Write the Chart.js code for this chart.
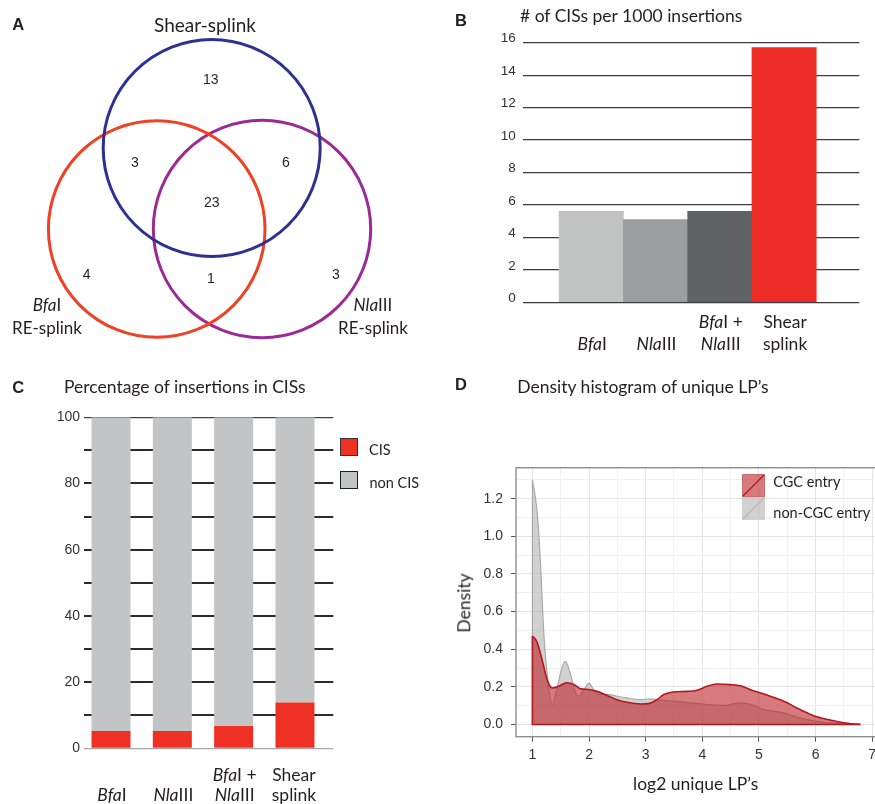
<!DOCTYPE html>
<html><head><meta charset="utf-8">
<script src="https://cdn.jsdelivr.net/npm/chart.js@4.4.1/dist/chart.umd.min.js"></script>
<style>
html,body{margin:0;padding:0;background:#fff;width:875px;height:804px;overflow:hidden;}
body{position:relative;font-family:Lato,sans-serif;color:#231f20;}
canvas{position:absolute;}
.t{position:absolute;white-space:nowrap;line-height:1;}
.c{transform:translate(-50%,-50%);}
.l{transform:translate(0,-50%);}
.letter{font-family:"Liberation Sans",Arial,sans-serif;font-weight:bold;font-size:16.5px;}
.title{font-size:17.5px;}
.cat{font-size:17.5px;}
.sw{position:absolute;box-sizing:border-box;}
</style></head><body>
<canvas id="cA" width="440" height="350" style="left:0;top:0"></canvas>
<canvas id="cB" width="435" height="360" style="left:440px;top:0"></canvas>
<canvas id="cC" width="440" height="444" style="left:0;top:360px"></canvas>
<canvas id="cD" width="445" height="444" style="left:440px;top:360px"></canvas>
<script>
// ---------- DATA ----------
// Panel A: Venn diagram of CISs
const vennSets = ['Shear-splink', 'BfaI RE-splink', 'NlaIII RE-splink'];
const vennRegions = ['Shear only', 'Shear+BfaI', 'Shear+NlaIII', 'all three', 'BfaI only', 'BfaI+NlaIII', 'NlaIII only'];
const vennCounts = [13, 3, 6, 23, 4, 1, 3];
// Panel B: # of CISs per 1000 insertions
const methods = ['BfaI', 'NlaIII', 'BfaI + NlaIII', 'Shear splink'];
const methodLines = [['', 'BfaI'], ['', 'NlaIII'], ['BfaI +', 'NlaIII'], ['Shear', 'splink']];
const cisPer1000 = [5.6, 5.1, 5.6, 15.7];
const ticksB = [0, 2, 4, 6, 8, 10, 12, 14, 16];
// Panel C: percentage of insertions in CISs
const pctCIS = [5.2, 5.2, 6.7, 13.8];
const pctNonCIS = [94.8, 94.8, 93.3, 86.2];
const ticksC = [0, 20, 40, 60, 80, 100];
// Panel D: density of log2 unique LP's
const cgcX = [1.00,1.08,1.17,1.26,1.35,1.44,1.52,1.61,1.73,1.85,1.99,2.14,2.32,2.49,2.67,2.91,3.05,3.20,3.32,3.49,3.73,3.91,4.08,4.26,4.49,4.67,4.85,4.99,5.20,5.44,5.67,5.85,6.02,6.26,6.49,6.79];
const cgcY = [0.470,0.440,0.344,0.238,0.194,0.200,0.212,0.222,0.213,0.190,0.186,0.176,0.154,0.132,0.118,0.109,0.111,0.132,0.159,0.173,0.176,0.182,0.203,0.215,0.212,0.206,0.185,0.171,0.150,0.124,0.088,0.062,0.041,0.023,0.009,0.000];
const nonX = [1.00,1.08,1.14,1.20,1.26,1.35,1.44,1.52,1.58,1.67,1.76,1.82,1.91,2.00,2.08,2.17,2.32,2.49,2.67,2.91,3.08,3.26,3.49,3.79,4.08,4.38,4.67,4.91,5.08,5.26,5.44,5.61,5.85,6.08,6.44,6.79];
const nonY = [1.300,1.140,0.870,0.490,0.270,0.106,0.200,0.300,0.335,0.270,0.168,0.150,0.185,0.220,0.185,0.159,0.160,0.150,0.141,0.132,0.136,0.129,0.124,0.115,0.106,0.102,0.115,0.101,0.079,0.071,0.062,0.044,0.026,0.014,0.004,0.000];
const ticksDx = [1, 2, 3, 4, 5, 6, 7];
const ticksDy = [0, 0.2, 0.4, 0.6, 0.8, 1.0, 1.2];
const seriesD = ['CGC entry', 'non-CGC entry'];

// ---------- LAYOUT / STYLE ----------
const vennLayout = {
  circles: [{x:211.7, y:148, r:108.5}, {x:156.7, y:229, r:108.3}, {x:262, y:229, r:108.7}],
  colors: ['#2e3192', '#ef4123', '#9b2a94'],
  countAt: [[210.7,79],[135,162],[286,162],[211.7,202],[86.7,274],[211,278],[336,274]],
  setLabels: [[[205,24,'Shear-splink']], [[47,304,'<i>Bfa</i>I'],[47,327,'RE-splink']], [[373,304,'<i>Nla</i>III'],[373,327,'RE-splink']]]
};
const barColorsB = ['#c1c3c2', '#9c9d9f', '#5f6264', '#ec2a26'];

function addText(html, x, y, cls, style) {
  const d = document.createElement('div');
  d.className = 't ' + (cls || 'c');
  d.innerHTML = html;
  d.style.left = x + 'px';
  d.style.top = y + 'px';
  if (style) Object.assign(d.style, style);
  document.body.appendChild(d);
  return d;
}
function fmt(s) { return s.replace('Bfa', '<i>Bfa</i>').replace('Nla', '<i>Nla</i>'); }
const common = {animation:false, responsive:false, events:[], plugins:{legend:{display:false}, tooltip:{enabled:false}}};

// ---------- PANEL A ----------
const cA = document.getElementById('cA');
const chA = new Chart(cA, {
  type: 'bubble',
  data: {datasets: vennSets.map((n, i) => ({label:n, data:[vennLayout.circles[i]], backgroundColor:'rgba(0,0,0,0)', borderColor:vennLayout.colors[i], borderWidth:3, clip:false}))},
  options: Object.assign({}, common, {
    layout: {autoPadding:false, padding:0},
    scales: {x:{type:'linear', min:0, max:440, display:false}, y:{type:'linear', min:0, max:350, reverse:true, display:false}}
  })
});
function pA(x, y) { return [cA.offsetLeft + chA.scales.x.getPixelForValue(x), cA.offsetTop + chA.scales.y.getPixelForValue(y)]; }
vennCounts.forEach((v, i) => { const p = pA(vennLayout.countAt[i][0], vennLayout.countAt[i][1]); addText(String(v), p[0], p[1], 'c', {fontFamily:'"Liberation Sans",Arial,sans-serif', fontSize:'14px'}); });
vennLayout.setLabels.forEach((lines, i) => lines.forEach(l => { const p = pA(l[0], l[1]); addText(l[2], p[0], p[1], 'c', {fontSize: i === 0 ? '19px' : '17px'}); }));
addText('A', 18.3, 24, 'c letter');

// ---------- PANEL B ----------
const cB = document.getElementById('cB');
const chB = new Chart(cB, {
  type: 'bar',
  data: {datasets: [{data: cisPer1000.map((v, i) => ({x:i+1, y:v})), backgroundColor: barColorsB, borderWidth:0, barPercentage:1, categoryPercentage:1}]},
  options: Object.assign({}, common, {
    layout: {autoPadding:false, padding:{left:0, top:42.7, right:15.7, bottom:57.7}},
    scales: {
      x: {type:'linear', min:-0.067, max:5.17, display:false, afterBuildTicks: s => { s.ticks = []; }},
      y: {min:0, max:16, afterFit: s => { s.width = 82.7; }, border:{display:false},
          grid:{color:'#3a3a3a', lineWidth:1.3, drawTicks:false},
          ticks:{stepSize:2, padding:7, labelOffset:-4, color:'#333', font:{size:13.5},
                 callback: v => ticksB.includes(v) ? String(v) : ''}}
    }
  })
});
methods.forEach((m, i) => {
  const x = cB.offsetLeft + chB.scales.x.getPixelForValue(i + 1) + 1;
  const yb = cB.offsetTop + chB.chartArea.bottom;
  if (methodLines[i][0]) addText(fmt(methodLines[i][0]), x, yb + 19.6, 'c cat');
  addText(fmt(methodLines[i][1]), x, yb + 41.8, 'c cat');
});
addText('B', 461, 20, 'c letter');
addText('# of CISs per 1000 insertions', 520, 16.3, 'l title');

// ---------- PANEL C ----------
const cC = document.getElementById('cC');
const chC = new Chart(cC, {
  type: 'bar',
  data: {datasets: [
    {label:'CIS', data: pctCIS.map((v, i) => ({x:i+1, y:v})), backgroundColor:'#ee3124', borderWidth:0, barPercentage:0.636, categoryPercentage:1},
    {label:'non CIS', data: pctNonCIS.map((v, i) => ({x:i+1, y:v})), backgroundColor:'#c2c4c5', borderWidth:0, barPercentage:0.636, categoryPercentage:1}
  ]},
  options: Object.assign({}, common, {
    layout: {autoPadding:false, padding:{left:0, top:57.3, right:106.7, bottom:55.7}},
    scales: {
      x: {type:'linear', min:0.5595, max:4.625, stacked:true, display:false, afterBuildTicks: s => { s.ticks = []; }},
      y: {stacked:true, min:0, max:100, afterFit: s => { s.width = 84; }, border:{display:false},
          grid:{drawTicks:false,
                color: c => c.tick && c.tick.value === 0 ? '#a8a8a8' : (c.tick && c.tick.value === 100 ? '#444' : '#2b2b2b'),
                lineWidth: c => c.tick && (c.tick.value === 0 || c.tick.value === 100) ? 1.2 : 2},
          ticks:{stepSize:10, padding:4, color:'#333', font:{size:14},
                 callback: v => ticksC.includes(v) ? String(v) : ''}}
    }
  })
});
methods.forEach((m, i) => {
  const x = cC.offsetLeft + chC.scales.x.getPixelForValue(i + 1) + (i === 3 ? -1 : 1);
  const yb = cC.offsetTop + chC.chartArea.bottom;
  if (methodLines[i][0]) addText(fmt(methodLines[i][0]), x, yb + 26.5, 'c cat');
  addText(fmt(methodLines[i][1]), x, yb + 46.2, 'c cat');
});
addText('C', 18.3, 387, 'c letter');
addText('Percentage of insertions in CISs', 64, 387, 'l title');
(function(){
  const a = document.createElement('div'); a.className = 'sw';
  Object.assign(a.style, {left:'340px', top:'437.7px', width:'18px', height:'18px', background:'#ee3124', border:'1px solid #333'});
  document.body.appendChild(a);
  const b = document.createElement('div'); b.className = 'sw';
  Object.assign(b.style, {left:'340px', top:'470.7px', width:'18px', height:'18px', background:'#c2c4c5', border:'1.6px solid #1e1e1e'});
  document.body.appendChild(b);
  addText('CIS', 369, 449.5, 'l', {fontSize:'14.5px'});
  addText('non CIS', 369.5, 482.5, 'l', {fontSize:'14.5px'});
})();

// ---------- PANEL D ----------
const cD = document.getElementById('cD');
const isMajorX = v => ticksDx.some(t => Math.abs(t - v) < 1e-6);
const isMajorY = v => ticksDy.some(t => Math.abs(t - v) < 1e-6);
const redFill = 'rgba(190,40,45,0.62)', redLine = '#b3181e';
const grayFill = 'rgba(176,176,176,0.58)', grayLine = '#a9a9a9';
const cgcPts = cgcX.map((x, i) => ({x, y:cgcY[i]}));
const nonPts = nonX.map((x, i) => ({x, y:nonY[i]}));
const edge = pts => [{x:pts[0].x, y:pts[0].y}, {x:pts[0].x, y:0}, {x:pts[pts.length-1].x, y:0}];
const panelBorder = {id:'panelBorder', afterDatasetsDraw(ch) {
  const a = ch.chartArea, ctx = ch.ctx;
  ctx.save(); ctx.strokeStyle = '#8e8e8e'; ctx.lineWidth = 1.4;
  ctx.strokeRect(a.left, a.top, a.right - a.left, a.bottom - a.top); ctx.restore();
}};
const chD = new Chart(cD, {
  type: 'scatter',
  data: {datasets: [
    {label:seriesD[0], data:cgcPts, showLine:true, fill:'origin', backgroundColor:redFill, borderColor:redLine, borderWidth:1.6, pointRadius:0, cubicInterpolationMode:'monotone', order:1},
    {label:seriesD[0] + ' edge', data:edge(cgcPts), showLine:true, fill:false, borderColor:redLine, borderWidth:1.6, pointRadius:0, tension:0, order:0},
    {label:seriesD[1], data:nonPts, showLine:true, fill:'origin', backgroundColor:grayFill, borderColor:grayLine, borderWidth:1.2, pointRadius:0, cubicInterpolationMode:'monotone', order:3},
    {label:seriesD[1] + ' edge', data:edge(nonPts), showLine:true, fill:false, borderColor:grayLine, borderWidth:1.2, pointRadius:0, tension:0, order:2}
  ]},
  options: Object.assign({}, common, {
    layout: {autoPadding:false, padding:{left:0, top:107.7, right:7.7, bottom:0}},
    scales: {
      x: {type:'linear', min:0.71, max:7.09, afterFit: s => { s.height = 67.3; }, border:{display:false},
          grid:{color: c => c.tick && isMajorX(c.tick.value) ? '#e4e4e4' : '#f1f1f1', lineWidth:1,
                tickColor: c => c.tick && isMajorX(c.tick.value) ? '#555' : 'rgba(0,0,0,0)', tickLength:5},
          ticks:{stepSize:0.5, includeBounds:false, autoSkip:false, maxRotation:0, padding:5, color:'#333', font:{size:14},
                 callback: v => isMajorX(v) ? String(Math.round(v)) : ''}},
      y: {min:-0.065, max:1.365, afterFit: s => { s.width = 76; }, border:{display:false},
          grid:{color: c => c.tick && isMajorY(c.tick.value) ? '#e4e4e4' : '#f1f1f1', lineWidth:1,
                tickColor: c => c.tick && isMajorY(c.tick.value) ? '#555' : 'rgba(0,0,0,0)', tickLength:5},
          ticks:{stepSize:0.1, includeBounds:false, autoSkip:false, padding:8, color:'#333', font:{size:14},
                 callback: v => isMajorY(v) ? v.toFixed(1) : ''}}
    }
  }),
  plugins: [panelBorder]
});
addText('D', 461, 384, 'c letter');
addText('Density histogram of unique LP\u2019s', 517.3, 387, 'l title');
(function(){
  const a = chD.chartArea;
  const cx = cD.offsetLeft + (a.left + a.right) / 2;
  addText('log2 unique LP\u2019s', cx - 1, 784, 'c', {fontSize:'17.5px'});
  addText('Density', 464, cD.offsetTop + (a.top + a.bottom) / 2 + 1, 'c', {fontSize:'17.5px', transform:'translate(-50%,-50%) rotate(-90deg)'});
  const key = (fill, line, diag) => '<svg width="23" height="23" style="display:block"><rect x="0.5" y="0.5" width="22" height="22" fill="' + fill + '" stroke="' + line + '" stroke-width="1"/><line x1="1" y1="22" x2="22" y2="1" stroke="' + diag + '" stroke-width="1.3"/></svg>';
  const k1 = document.createElement('div'); k1.className = 'sw'; k1.style.left = '741.7px'; k1.style.top = '474px';
  k1.innerHTML = key(redFill, 'rgba(179,24,30,0.5)', redLine); document.body.appendChild(k1);
  const k2 = document.createElement('div'); k2.className = 'sw'; k2.style.left = '741.7px'; k2.style.top = '497.3px';
  k2.innerHTML = key(grayFill, '#d0d0d0', '#b8b8b8'); document.body.appendChild(k2);
  addText(seriesD[0], 773.3, 481.7, 'l', {fontSize:'14.5px'});
  addText(seriesD[1], 773.3, 512.5, 'l', {fontSize:'14.5px'});
})();
</script>
</body></html>
